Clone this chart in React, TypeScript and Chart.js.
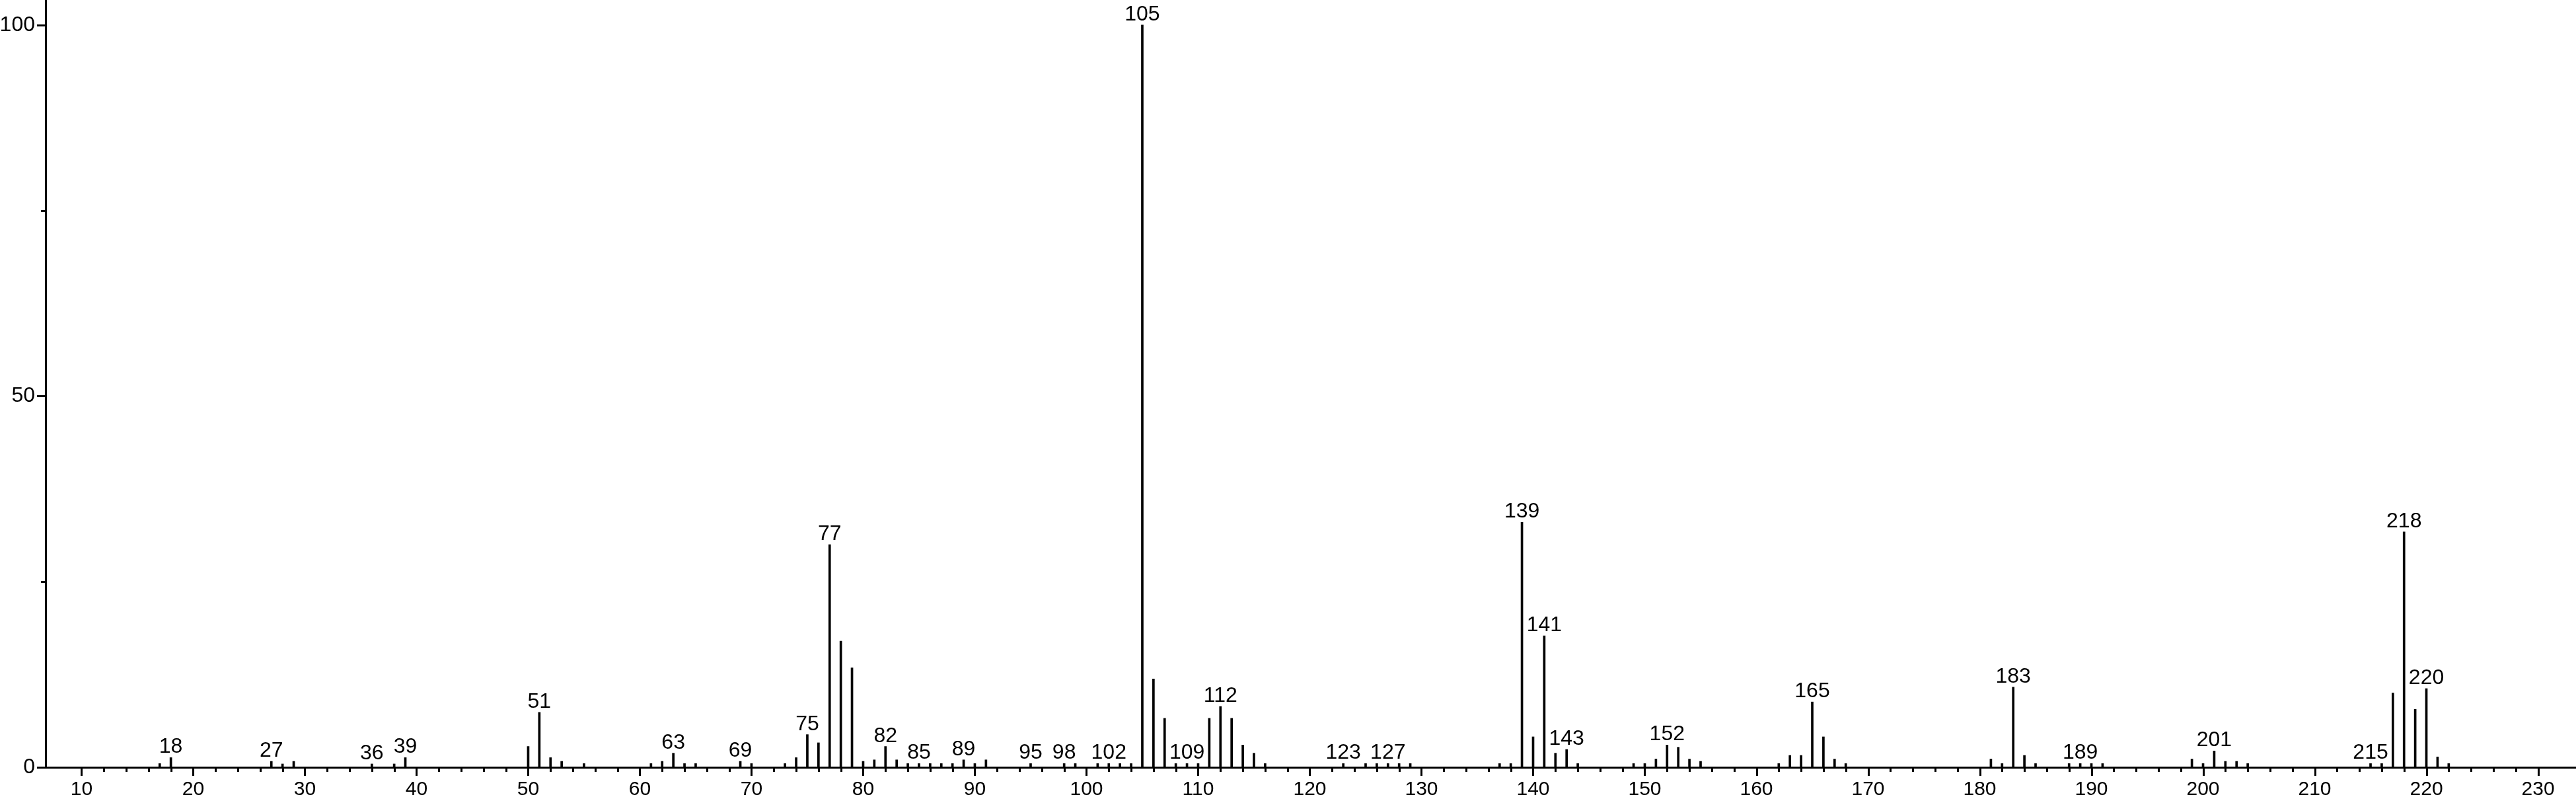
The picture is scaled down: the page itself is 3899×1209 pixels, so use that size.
import React, { useEffect, useRef } from 'react';
import { Chart, registerables } from 'chart.js';

Chart.register(...registerables);

// m/z values of the peaks
const mzValues = [
  17, 18, 27, 28, 29, 36, 38, 39, 50, 51, 52, 53, 55, 61, 62, 63, 64, 65, 69, 70,
  73, 74, 75, 76, 77, 78, 79, 80, 81, 82, 83, 84, 85, 86, 87, 88, 89, 90, 91, 95,
  98, 99, 101, 102, 103, 104, 105, 106, 107, 108, 109, 110, 111, 112, 113, 114, 115, 116,
  123, 125, 126, 127, 128, 129, 137, 138, 139, 140, 141, 142, 143, 144, 149, 150,
  151, 152, 153, 154, 155, 162, 163, 164, 165, 166, 167, 168, 181, 182, 183, 184, 185,
  188, 189, 190, 191, 199, 200, 201, 202, 203, 204, 215, 216, 217, 218, 219, 220, 221, 222,
];

// relative intensities (%)
const intensities = [
  0.5, 1.3, 0.8, 0.45, 0.8, 0.45, 0.45, 1.3, 2.8, 7.4, 1.3, 0.8, 0.5, 0.5, 0.8, 1.9, 0.5, 0.5, 0.8, 0.5,
  0.5, 1.3, 4.4, 3.3, 30.0, 17.0, 13.4, 0.8, 1.0, 2.8, 1.0, 0.5, 0.5, 0.5, 0.5, 0.5, 1.0, 0.5, 1.0, 0.5,
  0.5, 0.5, 0.5, 0.5, 0.5, 0.5, 100, 11.9, 6.6, 0.5, 0.5, 0.5, 6.6, 8.2, 6.6, 3.0, 1.9, 0.5,
  0.5, 0.5, 0.5, 0.5, 0.5, 0.5, 0.5, 0.5, 33.0, 4.1, 17.7, 1.9, 2.4, 0.5, 0.5, 0.5,
  1.1, 3.0, 2.7, 1.1, 0.8, 0.5, 1.6, 1.6, 8.8, 4.1, 1.1, 0.5, 1.1, 0.5, 10.8, 1.6, 0.5,
  0.5, 0.5, 0.5, 0.5, 1.1, 0.5, 2.2, 0.8, 0.8, 0.5, 0.5, 0.5, 10.0, 31.7, 7.8, 10.6, 1.4, 0.5,
];

// peaks that carry an m/z annotation
const labeledPeaks = [
  18, 27, 36, 39, 51, 63, 69, 75, 77, 82, 85, 89, 95, 98, 102, 105, 109, 112, 123, 127,
  139, 141, 143, 152, 165, 183, 189, 201, 215, 218, 220,
];

// axis tick labels
const xTickLabels = [10, 20, 30, 40, 50, 60, 70, 80, 90, 100, 110, 120, 130, 140, 150, 160, 170, 180, 190, 200, 210, 220, 230];
const yTickLabels = [0, 50, 100];
const yTicks = [0, 25, 50, 75, 100];

const FONT = '"Liberation Sans", Arial, Helvetica, sans-serif';
const X_MIN = 6.78;
const X_MAX = 233.4;
const Y_MAX = 103.36;

export default function App() {
  const ref = useRef<HTMLCanvasElement | null>(null);

  useEffect(() => {
    document.body.style.margin = '0';
    const canvas = ref.current;
    if (!canvas) return;

    const xTickValues: number[] = [];
    for (let v = xTickLabels[0]; v <= xTickLabels[xTickLabels.length - 1]; v += 2) xTickValues.push(v);

    const tickPlugin = {
      id: 'msTicks',
      afterDraw(chart: any) {
        const ctx = chart.ctx;
        const xs = chart.scales.x;
        const ys = chart.scales.y;
        const base = ys.getPixelForValue(0);
        const axisX = chart.chartArea.left;
        ctx.save();
        ctx.strokeStyle = '#000';
        ctx.lineWidth = 3;
        ctx.lineCap = 'butt';
        for (const v of xTickValues) {
          const px = Math.round(xs.getPixelForValue(v)) + 0.5;
          const len = xTickLabels.includes(v) ? 13 : 7;
          ctx.beginPath();
          ctx.moveTo(px, base);
          ctx.lineTo(px, base + len);
          ctx.stroke();
        }
        for (const v of yTicks) {
          const py = Math.round(ys.getPixelForValue(v)) + 0.5;
          const len = yTickLabels.includes(v) ? 13 : 7;
          ctx.beginPath();
          ctx.moveTo(axisX, py);
          ctx.lineTo(axisX - len, py);
          ctx.stroke();
        }
        ctx.restore();
      },
    };

    const labelPlugin = {
      id: 'peakLabels',
      afterDatasetsDraw(chart: any) {
        const ctx = chart.ctx;
        const xs = chart.scales.x;
        const ys = chart.scales.y;
        ctx.save();
        ctx.fillStyle = '#000';
        ctx.font = `32px ${FONT}`;
        ctx.textAlign = 'center';
        ctx.textBaseline = 'alphabetic';
        for (const m of labeledPeaks) {
          const idx = mzValues.indexOf(m);
          if (idx < 0) continue;
          const px = xs.getPixelForValue(m);
          const py = ys.getPixelForValue(intensities[idx]);
          ctx.fillText(String(m), px, py - 7);
        }
        ctx.restore();
      },
    };

    const chart = new Chart(canvas, {
      type: 'bar',
      data: {
        datasets: [
          {
            data: mzValues.map((m, i) => ({ x: m, y: intensities[i] })),
            backgroundColor: '#000',
            borderWidth: 0,
            barThickness: 3,
          },
        ],
      },
      options: {
        animation: false,
        responsive: false,
        devicePixelRatio: 1,
        layout: { padding: 0 },
        plugins: { legend: { display: false }, tooltip: { enabled: false } },
        scales: {
          x: {
            type: 'linear',
            min: X_MIN,
            max: X_MAX,
            offset: false,
            grid: { display: true, drawOnChartArea: false, drawTicks: false, offset: false },
            border: { display: true, color: '#000', width: 3 },
            afterBuildTicks: (scale: any) => {
              scale.ticks = xTickValues.map((v) => ({ value: v }));
            },
            afterFit: (scale: any) => {
              scale.height = 48;
              scale.paddingLeft = 0;
              scale.paddingRight = 0;
            },
            ticks: {
              autoSkip: false,
              maxRotation: 0,
              minRotation: 0,
              padding: 16,
              color: '#000',
              font: { family: FONT, size: 30 },
              callback: (value: any) => (xTickLabels.includes(Number(value)) ? String(value) : ''),
            },
          },
          y: {
            type: 'linear',
            min: 0,
            max: Y_MAX,
            grid: { display: true, drawOnChartArea: false, drawTicks: false },
            border: { display: true, color: '#000', width: 3 },
            afterBuildTicks: (scale: any) => {
              scale.ticks = yTicks.map((v) => ({ value: v }));
            },
            afterFit: (scale: any) => {
              scale.width = 69;
              scale.paddingTop = 0;
              scale.paddingBottom = 0;
            },
            ticks: {
              padding: 16,
              color: '#000',
              font: { family: FONT, size: 32 },
              callback: (value: any) => (yTickLabels.includes(Number(value)) ? String(value) : ''),
            },
          },
        },
      },
      plugins: [tickPlugin, labelPlugin],
    });

    return () => chart.destroy();
  }, []);

  return (
    <div style={{ position: 'absolute', left: 0, top: 0, width: 3899, height: 1209, background: '#fff' }}>
      <canvas ref={ref} width={3899} height={1209} style={{ display: 'block', width: 3899, height: 1209 }} />
    </div>
  );
}
